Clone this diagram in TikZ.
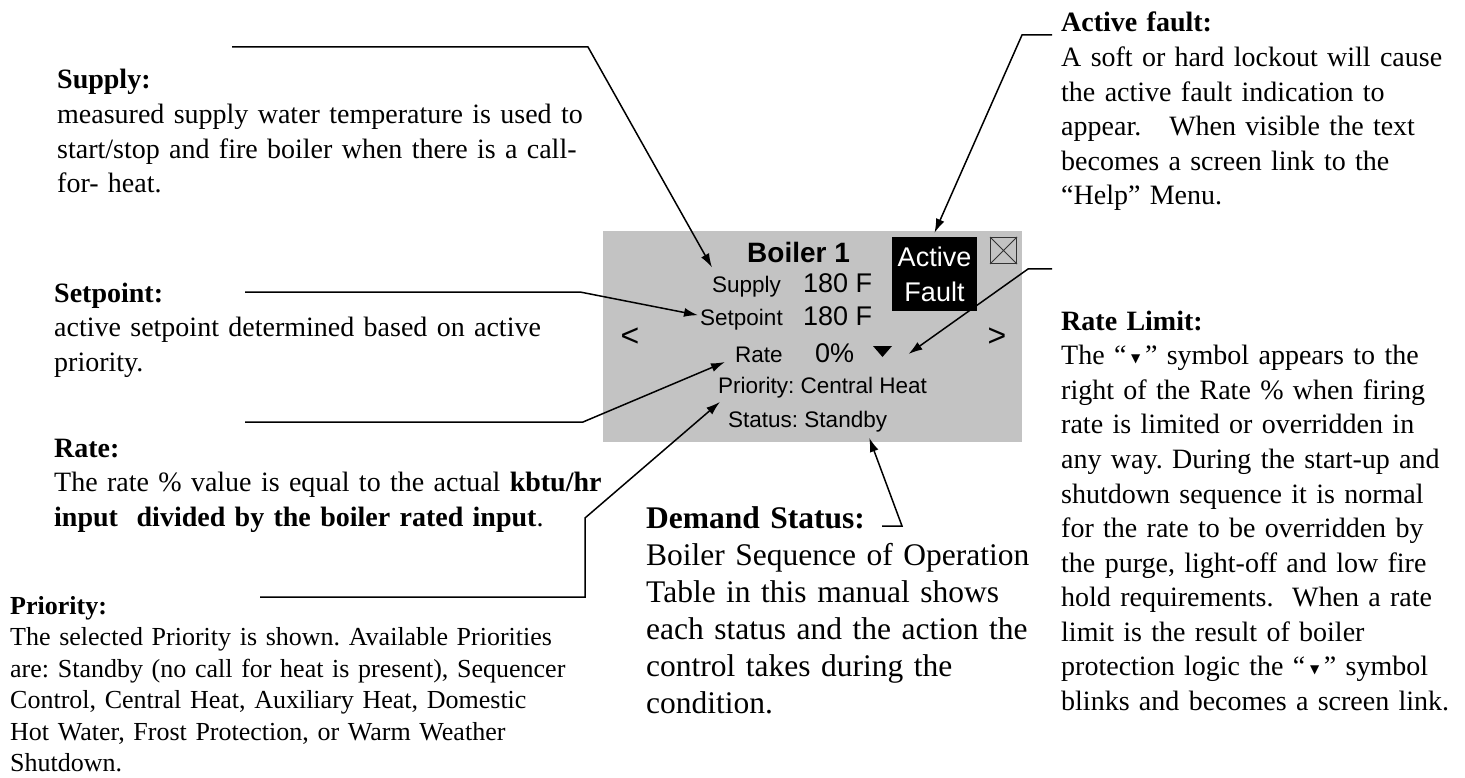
\documentclass[tikz,border=0pt]{standalone}
\usepackage{fontspec}
\setmainfont{Liberation Serif}
\setsansfont{Liberation Sans}
\newfontfamily\symfont{DejaVu Sans}
\usetikzlibrary{arrows.meta}
\definecolor{PanelGray}{RGB}{195,195,195}
\newcommand{\ratetri}{{\symfont\fontsize{12}{12}\selectfont\raisebox{2pt}{▼}}}
\frenchspacing
\tikzset{
  panel/.style={fill=PanelGray,minimum width=419pt,minimum height=211pt,inner sep=0pt},
  lbl/.style={anchor=base west,inner sep=0pt,font=\sffamily\fontsize{22.5}{22.5}\selectfont},
  val/.style={anchor=base west,inner sep=0pt,font=\sffamily\fontsize{27}{27}\selectfont},
  fault/.style={fill=black,text=white,minimum width=85pt,minimum height=74pt,inner sep=0pt,
    align=center,font=\sffamily\fontsize{27}{35}\selectfont},
  note/.style={anchor=base west,inner sep=0pt,align=left,text width=600pt,
    font=\fontsize{28}{34.6}\selectfont},
  lead/.style={draw=black,line width=1.5pt,-{Latex[length=14pt,width=9pt]}},
}
\begin{document}
\begin{tikzpicture}[x=1pt,y=-1pt]
\useasboundingbox (0,0) rectangle (1465,778);
\node[panel] (panel) at (812.5,336.5) {};
\node[lbl,font=\sffamily\bfseries\fontsize{28}{28}\selectfont] (title) at (747,262) {Boiler 1};
\node[lbl] (supplyl) at (712,292) {Supply};
\node[val] (supplyv) at (803,292) {180 F};
\node[lbl] (setpointl) at (700,325) {Setpoint};
\node[val] (setpointv) at (803,325) {180 F};
\node[lbl] (ratel) at (735,362) {Rate};
\node[val] (ratev) at (815,362) {0\%};
\node[lbl] (prio) at (718,393) {Priority: Central Heat};
\node[lbl] (status) at (728,427) {Status: Standby};
\node[inner sep=0pt,font=\sffamily\fontsize{32}{32}\selectfont] (prev) at (630,337) {<};
\node[inner sep=0pt,font=\sffamily\fontsize{32}{32}\selectfont] (next) at (997,337) {>};
\node[fault] (fault) at (934.5,274) {Active\\Fault};
\node[draw=black!80,line width=1pt,minimum size=26pt,inner sep=0pt] (closebox) at (1003.5,250.5) {};
\draw[black!80,line width=1pt] (closebox.north west) -- (closebox.south east)
  (closebox.north east) -- (closebox.south west);
\coordinate (limtri) at (882.5,351);
\fill ([shift={(-9.5,-5)}]limtri) -- ++(19,0) -- ++(-9.5,11) -- cycle;

\node[note] (supplytxt) at (57,89) {\textbf{Supply:}\\
  measured supply water temperature is used to\\
  start/stop and fire boiler when there is a call-\\
  for- heat.};
\node[note] (setptxt) at (54,302) {\textbf{Setpoint:}\\
  active setpoint determined based on active\\
  priority.};
\node[note] (ratetxt) at (54,457) {\textbf{Rate:}\\
  The rate \% value is equal to the actual \textbf{kbtu/hr}\\
  \textbf{input\ \ divided by the boiler rated input}.};
\node[note,font=\fontsize{26}{31.5}\selectfont] (priotxt) at (10,614) {\textbf{Priority:}\\
  The selected Priority is shown. Available Priorities\\
  are: Standby (no call for heat is present), Sequencer\\
  Control, Central Heat, Auxiliary Heat, Domestic\\
  Hot Water, Frost Protection, or Warm Weather\\
  Shutdown.};
\node[note,font=\fontsize{31.5}{37}\selectfont] (demtxt) at (646,528) {\textbf{Demand Status:}\\
  Boiler Sequence of Operation\\
  Table in this manual shows\\
  each status and the action the\\
  control takes during the\\
  condition.};
\node[note] (acttxt) at (1061,32) {\textbf{Active fault:}\\
  A soft or hard lockout will cause\\
  the active fault indication to\\
  appear.\ \ \ When visible the text\\
  becomes a screen link to the\\
  “Help” Menu.};
\node[note] (limtxt) at (1061,330) {\textbf{Rate Limit:}\\
  The “\,\ratetri\,” symbol appears to the\\
  right of the Rate \% when firing\\
  rate is limited or overridden in\\
  any way. During the start-up and\\
  shutdown sequence it is normal\\
  for the rate to be overridden by\\
  the purge, light-off and low fire\\
  hold requirements.\ \ When a rate\\
  limit is the result of boiler\\
  protection logic the “\,\ratetri\,” symbol\\
  blinks and becomes a screen link.};

\coordinate (sup1) at (232,47);
\coordinate (sup2) at (588,47);
\coordinate (set1) at (245,292);
\coordinate (set2) at (580,292);
\coordinate (rat1) at (245,422);
\coordinate (rat2) at (583,422);
\coordinate (pri1) at (260,597);
\coordinate (pri2) at (585,597);
\coordinate (pri3) at (585,518);
\coordinate (dem1) at (882,526);
\coordinate (dem2) at (902,526);
\coordinate (act1) at (1052,35);
\coordinate (act2) at (1022,35);
\coordinate (lim1) at (1052,269);
\coordinate (lim2) at (1028,269);
\draw[lead] (sup1) -- (sup2) -- ([yshift=8pt]supplyl.north west);
\draw[lead] (set1) -- (set2) -- ([shift={(-2pt,4pt)}]setpointl.west);
\draw[lead] (rat1) -- (rat2) -- ([xshift=-10pt]ratel.base west);
\draw[lead] (pri1) -- (pri2) -- (pri3) -- ([shift={(2pt,-4pt)}]prio.south west);
\draw[lead] (dem1) -- (dem2) -- ([shift={(-18pt,-6pt)}]status.south east);
\draw[lead] (act1) -- (act2) -- ([yshift=4pt]fault.north);
\draw[lead] (lim1) -- (lim2) -- ([shift={(26pt,-3pt)}]limtri);
\end{tikzpicture}
\end{document}
